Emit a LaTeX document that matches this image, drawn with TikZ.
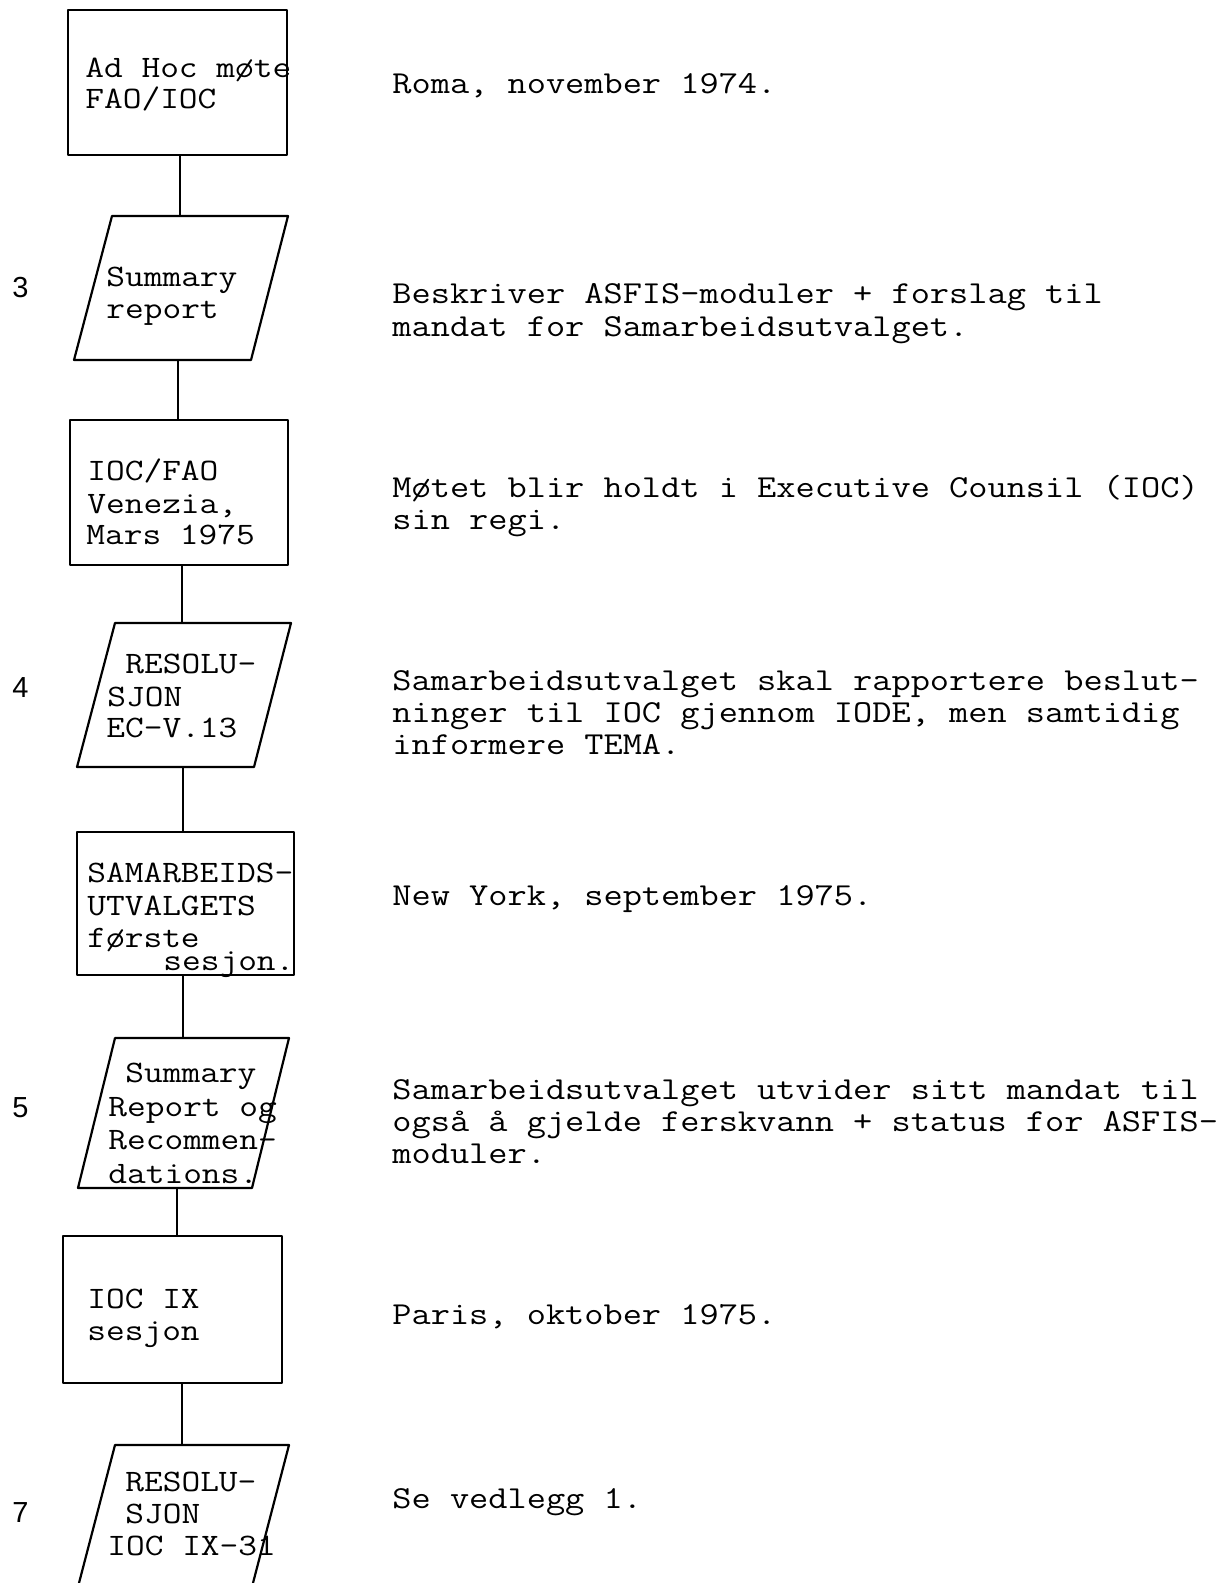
\documentclass[tikz,border=0pt]{standalone}
\usepackage{fontspec}
\newfontfamily\tw[FakeStretch=1.165]{Latin Modern Mono}
\newfontfamily\numfont{Liberation Sans}
\tikzset{
  shp/.style={line width=1.1pt, line join=round},
  conn/.style={line width=1.0pt},
  boxtxt/.style={anchor=base west, inner sep=0pt, font=\tw\fontsize{15.6}{16}\selectfont},
  ritxt/.style={anchor=base west, inner sep=0pt, font=\tw\fontsize{16}{16}\selectfont},
  numtxt/.style={anchor=base west, inner sep=0pt, font=\numfont\fontsize{14.5}{16}\selectfont},
}
\begin{document}
\begin{tikzpicture}[x=0.5pt,y=-0.5pt]
\useasboundingbox (0,0) rectangle (1224,1583);
% ---------- shapes ----------
\draw[shp] (68,10) rectangle (287,155);
\draw[shp] (112,216) -- (288,216) -- (251,360) -- (74,360) -- cycle;
\draw[shp] (70,420) rectangle (288,565);
\draw[shp] (115,623) -- (291,623) -- (254,767) -- (77,767) -- cycle;
\draw[shp] (77,832) rectangle (294,975);
\draw[shp] (115,1038) -- (289,1038) -- (252,1188) -- (78,1188) -- cycle;
\draw[shp] (63,1236) rectangle (282,1383);
\draw[shp] (79,1583) -- (115,1445) -- (289,1445) -- (253,1583);
% ---------- connector ends ----------
\coordinate (c1a) at (180,155);  \coordinate (c1b) at (180,216);
\coordinate (c2a) at (178,360);  \coordinate (c2b) at (178,420);
\coordinate (c3a) at (182,565);  \coordinate (c3b) at (182,623);
\coordinate (c4a) at (183,767);  \coordinate (c4b) at (183,832);
\coordinate (c5a) at (183,975);  \coordinate (c5b) at (183,1038);
\coordinate (c6a) at (177,1188); \coordinate (c6b) at (177,1236);
\coordinate (c7a) at (182,1383); \coordinate (c7b) at (182,1445);
\draw[conn] (c1a) -- (c1b);
\draw[conn] (c2a) -- (c2b);
\draw[conn] (c3a) -- (c3b);
\draw[conn] (c4a) -- (c4b);
\draw[conn] (c5a) -- (c5b);
\draw[conn] (c6a) -- (c6b);
\draw[conn] (c7a) -- (c7b);
% ---------- box texts ----------
\node[boxtxt] (t1a) at (85,78) {Ad Hoc møte};
\node[boxtxt] (t1b) at (85,109) {FAO/IOC};
\node[boxtxt] (t2a) at (106,287) {Summary};
\node[boxtxt] (t2b) at (106,319) {report};
\node[boxtxt] (t3a) at (87,480) {IOC/FAO};
\node[boxtxt] (t3b) at (87,513) {Venezia,};
\node[boxtxt] (t3c) at (86,544) {Mars 1975};
\node[boxtxt] (t4a) at (125,673) {RESOLU-};
\node[boxtxt] (t4b) at (107,706) {SJON};
\node[boxtxt] (t4c) at (106,737) {EC-V.13};
\node[boxtxt] (t5a) at (87,882) {SAMARBEIDS-};
\node[boxtxt] (t5b) at (87,915) {UTVALGETS};
\node[boxtxt] (t5c) at (87,947) {første};
\node[boxtxt] (t5d) at (163,970) {sesjon.};
\node[boxtxt] (t6a) at (125,1082) {Summary};
\node[boxtxt] (t6b) at (108,1116) {Report og};
\node[boxtxt] (t6c) at (108,1149) {Recommen-};
\node[boxtxt] (t6d) at (108,1183) {dations.};
\node[boxtxt] (t7a) at (87,1308) {IOC IX};
\node[boxtxt] (t7b) at (87,1340) {sesjon};
\node[boxtxt] (t8a) at (125,1491) {RESOLU-};
\node[boxtxt] (t8b) at (125,1523) {SJON};
\node[boxtxt] (t8c) at (107,1555) {IOC IX-31};
% ---------- numbers ----------
\node[numtxt] (n3) at (12,298) {3};
\node[numtxt] (n4) at (12,697) {4};
\node[numtxt] (n5) at (12,1117) {5};
\node[numtxt] (n7) at (12,1522) {7};
% ---------- right texts ----------
\node[ritxt] (r1)  at (392,94)   {Roma, november 1974.};
\node[ritxt] (r2a) at (392,304)  {Beskriver ASFIS-moduler + forslag til};
\node[ritxt] (r2b) at (392,336)  {mandat for Samarbeidsutvalget.};
\node[ritxt] (r3a) at (392,497)  {Møtet blir holdt i Executive Counsil (IOC)};
\node[ritxt] (r3b) at (392,529)  {sin regi.};
\node[ritxt] (r4a) at (392,690)  {Samarbeidsutvalget skal rapportere beslut-};
\node[ritxt] (r4b) at (392,722)  {ninger til IOC gjennom IODE, men samtidig};
\node[ritxt] (r4c) at (392,754)  {informere TEMA.};
\node[ritxt] (r5)  at (392,905)  {New York, september 1975.};
\node[ritxt] (r6a) at (392,1099) {Samarbeidsutvalget utvider sitt mandat til};
\node[ritxt] (r6b) at (392,1131) {også å gjelde ferskvann + status for ASFIS-};
\node[ritxt] (r6c) at (392,1163) {moduler.};
\node[ritxt] (r7)  at (392,1324) {Paris, oktober 1975.};
\node[ritxt] (r8)  at (392,1508) {Se vedlegg 1.};
\end{tikzpicture}
\end{document}
